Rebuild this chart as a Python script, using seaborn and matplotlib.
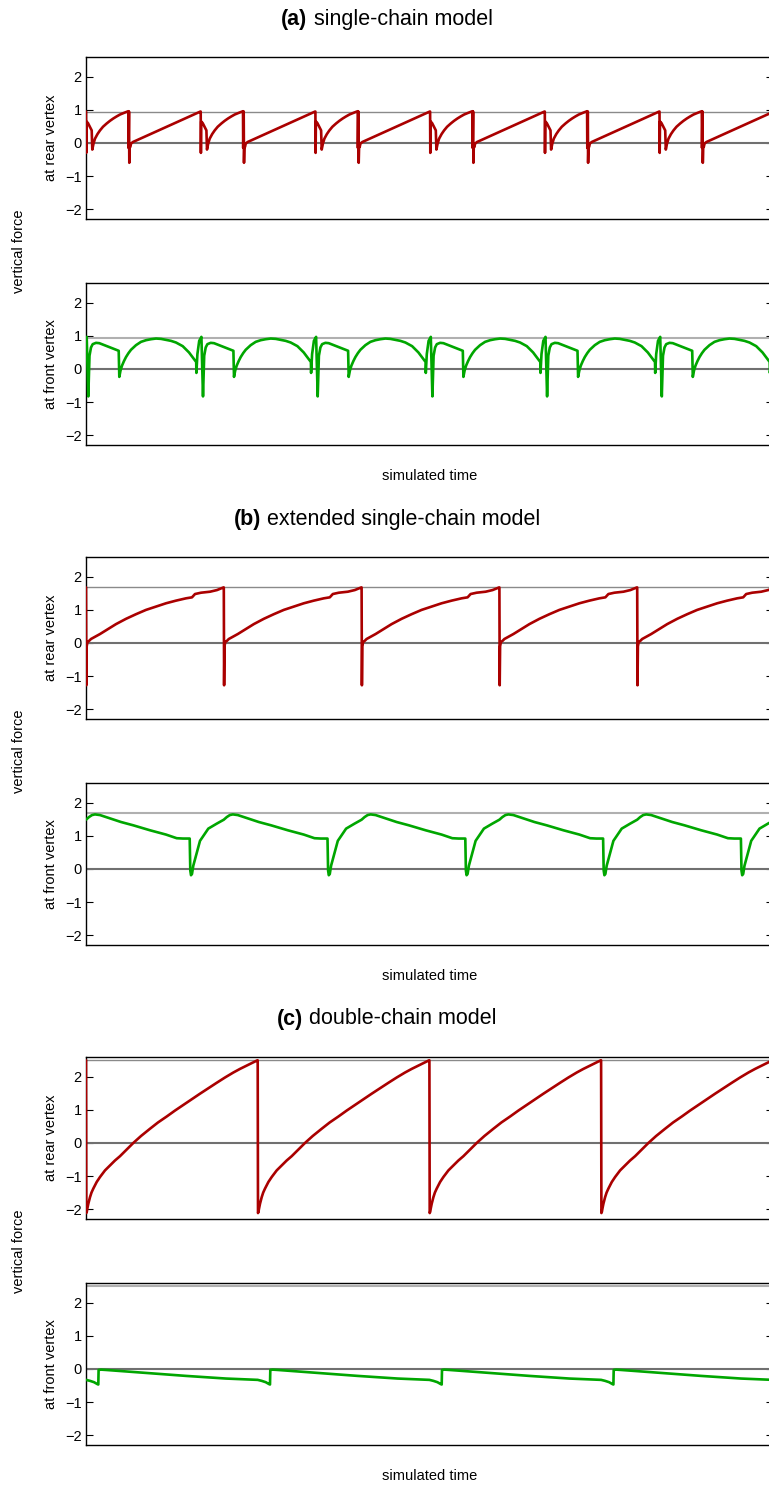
import numpy as np
import pandas as pd
import matplotlib
matplotlib.use("Agg")
import matplotlib.pyplot as plt
import seaborn as sns

# ---------------- data (one period of each waveform) -------------
# (a) single-chain model
period_a = 114.7
rear_a_t = [0.0, 0.2, 0.5, 2.0, 5.7, 6.3, 7.5, 9.0, 11.5, 14.0, 17.0, 20.7, 24.0, 27.3, 30.5,
            34.0, 38.0, 42.3, 42.5, 43.0, 43.3, 43.7, 44.3, 45.0, 47.0, 114.4]
rear_a_v = [0.95, -0.3, 0.65, 0.6, 0.38, -0.2, -0.02, 0.13, 0.27, 0.38, 0.49, 0.59, 0.67, 0.74, 0.8,
            0.86, 0.91, 0.96, -0.15, 0.95, -0.6, -0.1, -0.12, -0.02, 0.03, 0.95]
front_a_t = [-4.5, -4.3, -3.3, -1.5, 0.7, 2.3, 3.5, 5.0, 6.7, 10.0, 13.3, 32.7, 33.3, 34.5, 36.0,
             38.0, 40.0, 42.5, 45.0, 50.0, 55.0, 60.0, 65.0, 70.0, 75.0, 80.0, 85.0, 90.0, 96.7, 103.0]
front_a_v = [0.21, -0.12, 0.45, 0.85, 0.97, -0.83, 0.4, 0.65, 0.75, 0.79, 0.78, 0.55, -0.24, -0.05, 0.1,
             0.24, 0.36, 0.48, 0.58, 0.72, 0.82, 0.87, 0.9, 0.92, 0.91, 0.88, 0.85, 0.8, 0.69, 0.5]
peak_a = 0.95

# (b) extended single-chain model
period_b = 137.8
rear_b_t = [0.0, 0.3, 0.7, 1.5, 3.0, 5.0, 8.0, 14.0, 22.0, 30.0, 40.0, 50.0, 60.0, 70.0, 80.0,
            90.0, 100.0, 106.0, 109.0, 115.0, 124.0, 131.0, 137.5]
rear_b_v = [1.68, -1.28, -0.1, 0.03, 0.06, 0.12, 0.17, 0.27, 0.42, 0.57, 0.73, 0.87, 1.0, 1.1, 1.2,
            1.28, 1.35, 1.38, 1.48, 1.52, 1.55, 1.6, 1.68]
front_b_t = [0.0, 3.0, 6.0, 9.0, 14.0, 25.0, 35.0, 47.3, 64.0, 80.0, 90.7, 97.0, 103.7, 104.3,
             105.0, 106.0, 107.3, 114.0, 122.3, 130.7]
front_b_v = [1.49, 1.57, 1.63, 1.65, 1.63, 1.52, 1.42, 1.32, 1.17, 1.04, 0.93, 0.92, 0.92, -0.05,
             -0.19, -0.15, 0.1, 0.85, 1.22, 1.37]
peak_b = 1.68

# (c) double-chain model
period_c = 171.7
rear_c_t = [0.0, 0.3, 0.8, 1.3, 2.3, 4.0, 5.5, 7.3, 10.7, 14.0, 19.0, 24.0, 29.0, 34.0, 40.7,
            47.3, 55.0, 64.0, 72.0, 80.7, 89.0, 97.3, 105.5, 114.0, 122.0, 130.7, 139.0, 147.3,
            154.0, 160.0, 166.0, 171.4]
rear_c_v = [2.5, -2.12, -2.08, -1.99, -1.84, -1.64, -1.5, -1.38, -1.18, -1.03, -0.83, -0.68, -0.53,
            -0.4, -0.2, 0.0, 0.21, 0.43, 0.62, 0.8, 0.98, 1.15, 1.32, 1.49, 1.65, 1.82, 1.98, 2.13,
            2.24, 2.33, 2.42, 2.5]
front_c_t = [0.0, 4.0, 8.0, 11.5, 12.3, 12.6, 15.0, 20.0, 60.0, 100.0, 140.0]
front_c_v = [-0.33, -0.36, -0.40, -0.46, -0.47, -0.03, -0.02, -0.03, -0.12, -0.21, -0.29]
peak_c = 2.5

titles_bold = ["(a)", "(b)", "(c)"]
titles_rest = [" single-chain model", " extended single-chain model", " double-chain model"]
yticks = [-2, -1, 0, 1, 2]


def repeat_cycle(t, v, period, n):
    tt = np.concatenate([np.asarray(t) + k * period for k in range(n)])
    vv = np.concatenate([np.asarray(v) for _ in range(n)])
    return pd.DataFrame({"time": tt, "force": vv})


panels = [
    (repeat_cycle(rear_a_t, rear_a_v, period_a, 7), repeat_cycle(front_a_t, front_a_v, period_a, 8), peak_a),
    (repeat_cycle(rear_b_t, rear_b_v, period_b, 6), repeat_cycle(front_b_t, front_b_v, period_b, 6), peak_b),
    (repeat_cycle(rear_c_t, rear_c_v, period_c, 5), repeat_cycle(front_c_t, front_c_v, period_c, 5), peak_c),
]

# ---------------- style ---------------
sns.set_style("white")
plt.rcParams["font.family"] = ["Liberation Sans", "DejaVu Sans"]
plt.rcParams["axes.unicode_minus"] = True
plt.rcParams["text.color"] = "black"
plt.rcParams["axes.labelcolor"] = "black"
plt.rcParams["ytick.color"] = "black"
plt.rcParams["xtick.color"] = "black"

W, H = 769, 1486
fig = plt.figure(figsize=(W / 100, H / 100), dpi=100)

RED = "#aa0000"
GREEN = "#00a600"
FS = 10.5
TFS = 15.5

left_px, right_px = 86, 773
tops = [57, 283, 557, 783, 1057, 1283]
ax_h = 162
XMAX = right_px - left_px

renderer = fig.canvas.get_renderer()

for p, (rear_df, front_df, peak) in enumerate(panels):
    for j, (df, color, lab) in enumerate([(rear_df, RED, "at rear vertex"),
                                          (front_df, GREEN, "at front vertex")]):
        top = tops[2 * p + j]
        ax = fig.add_axes([left_px / W, 1 - (top + ax_h) / H, (right_px - left_px) / W, ax_h / H])
        ax.axhline(0, color="#707070", lw=1.5, zorder=1)
        ax.axhline(peak, color="#8a8a8a" if j == 0 else "#b0b0b0", lw=1.0 if j == 0 else 1.5, zorder=1)
        sns.lineplot(data=df, x="time", y="force", ax=ax, color=color, lw=1.9,
                     sort=False, estimator=None, zorder=3)
        ax.set_xlim(0, XMAX)
        ax.set_ylim(-2.3, 2.6)
        ax.set_yticks(yticks)
        ax.set_xticks([])
        ax.tick_params(axis="y", direction="in", length=5, width=0.8, right=True, left=True,
                       labelsize=FS, pad=3, colors="black")
        ax.set_xlabel("")
        ax.set_ylabel(lab, fontsize=FS, color="black")
        ax.yaxis.set_label_coords((58 - left_px) / (right_px - left_px), 0.5)
        for s in ax.spines.values():
            s.set_color("black")
            s.set_linewidth(1.0)
        if j == 1:
            fig.text((left_px + right_px) / 2 / W, 1 - (top + ax_h + 31) / H, "simulated time",
                     ha="center", va="center", fontsize=FS, color="black")

    # vertical force label
    yc = (tops[2 * p] + tops[2 * p + 1] + ax_h) / 2
    fig.text(19 / W, 1 - yc / H, "vertical force", rotation=90, ha="center", va="center",
             fontsize=FS, color="black")

    # title with bold prefix
    ty = 1 - (tops[2 * p] - 38) / H
    t1 = fig.text(0, ty, titles_bold[p], fontsize=TFS, fontweight="bold", ha="left", va="center",
                  color="black")
    t2 = fig.text(0, ty, titles_rest[p], fontsize=TFS, ha="left", va="center", color="black")
    w1 = t1.get_window_extent(renderer).width
    w2 = t2.get_window_extent(renderer).width
    x0 = 387 - (w1 + w2) / 2
    t1.set_x(x0 / W)
    t2.set_x((x0 + w1) / W)

fig.savefig("out.png", dpi=100)
